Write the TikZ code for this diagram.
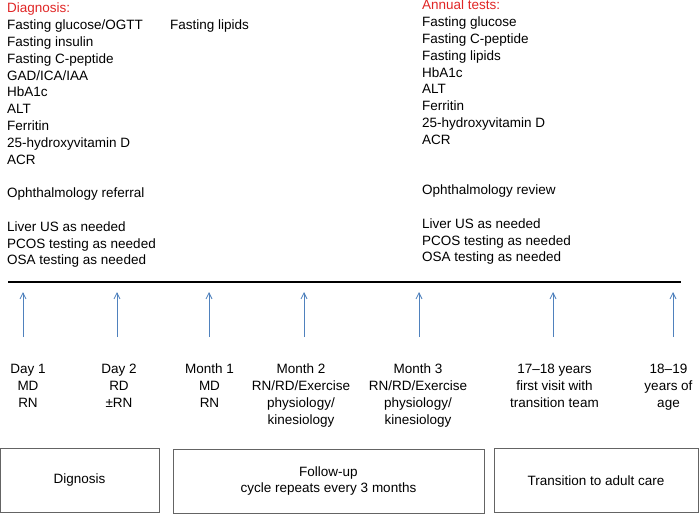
\documentclass[tikz,border=0pt]{standalone}
\usepackage{fontspec}
\setmainfont{Liberation Sans}
\usetikzlibrary{arrows.meta}
\definecolor{headred}{RGB}{224,38,38}
\definecolor{arrowblue}{RGB}{79,129,189}
\definecolor{boxgray}{RGB}{100,100,100}
\begin{document}
\begin{tikzpicture}[x=1pt, y=-1pt]
    % Define styles
    \tikzset{
        plaintext/.style={font=\fontsize{13.5}{16.8}\selectfont, inner sep=0pt},
        testlist/.style={plaintext, align=left, anchor=north west},
        visitlabel/.style={plaintext, align=center, anchor=north},
        timeline/.style={black, line width=1.6pt},
        pointer/.style={arrowblue, line width=0.8pt, -{Straight Barb[length=6pt, width=6pt]}},
        phasebox/.style={draw=boxgray, line width=0.8pt, plaintext, align=center, minimum height=64pt}
    }
    \useasboundingbox (0,0) rectangle (699,514);

    % Tests at diagnosis, month 1 and each year
    \node[testlist] (diagtests) at (7,3) {
        \textcolor{headred}{Diagnosis:}\\
        Fasting glucose/OGTT\\
        Fasting insulin\\
        Fasting C-peptide\\
        GAD/ICA/IAA\\
        HbA1c\\
        ALT\\
        Ferritin\\
        25-hydroxyvitamin D\\
        ACR\\[16.8pt]
        Ophthalmology referral\\[16.8pt]
        Liver US as needed\\
        PCOS testing as needed\\
        OSA testing as needed
    };
    \node[testlist] (lipids) at (170,20) {Fasting lipids};
    \node[testlist] (annualtests) at (422,0) {
        \textcolor{headred}{Annual tests:}\\
        Fasting glucose\\
        Fasting C-peptide\\
        Fasting lipids\\
        HbA1c\\
        ALT\\
        Ferritin\\
        25-hydroxyvitamin D\\
        ACR\\[33.6pt]
        Ophthalmology review\\[16.8pt]
        Liver US as needed\\
        PCOS testing as needed\\
        OSA testing as needed
    };

    % Draw time line
    \coordinate (lineL) at (8,282);
    \coordinate (lineR) at (681,282);
    \draw[timeline] (lineL) -- (lineR);

    % Visit arrows
    \foreach \x/\n in {23/1, 117/2, 209/3, 304/4, 419/5, 553/6, 673/7} {
        \coordinate (foot\n) at (\x,337);
        \coordinate (tip\n) at (\x,292);
        \draw[pointer] (foot\n) -- (tip\n);
    }

    % Visit labels
    \node[visitlabel] (day1) at (28,364) {Day 1\\MD\\RN};
    \node[visitlabel] (day2) at (119,364) {Day 2\\RD\\±RN};
    \node[visitlabel] (month1) at (209.5,364) {Month 1\\MD\\RN};
    \node[visitlabel] (month2) at (301,364) {Month 2\\RN/RD/Exercise\\physiology/\\kinesiology};
    \node[visitlabel] (month3) at (418,364) {Month 3\\RN/RD/Exercise\\physiology/\\kinesiology};
    \node[visitlabel] (firstvisit) at (554.5,364) {17–18 years\\first visit with\\transition team};
    \node[visitlabel] (adultage) at (668.5,364) {18–19\\years of\\age};

    % Phase boxes
    \node[phasebox, minimum width=159pt] (diagbox) at (79.5,480) {Dignosis};
    \node[phasebox, minimum width=311pt] (followbox) at (328.5,481) {Follow-up\\cycle repeats every 3 months};
    \node[phasebox, minimum width=204pt] (adultbox) at (596,480.5) {Transition to adult care};
\end{tikzpicture}
\end{document}
